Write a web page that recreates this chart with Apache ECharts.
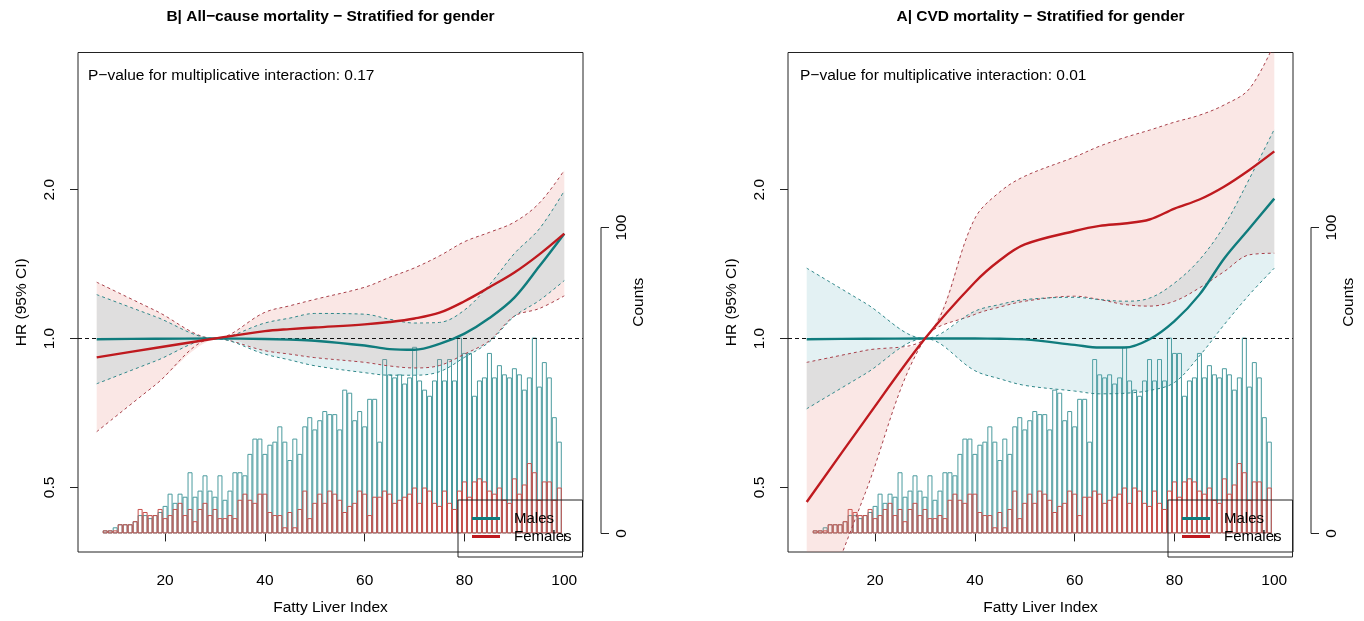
<!DOCTYPE html>
<html>
<head>
<meta charset="utf-8">
<script src="https://cdn.jsdelivr.net/npm/echarts@6/dist/echarts.min.js"></script>
<style>
  html, body { margin: 0; padding: 0; background: #fff; }
  #chart { width: 1364px; height: 621px; }
</style>
</head>
<body>
<div id="chart"></div>
<script>
const fli = [6.3, 18, 30, 40, 45, 50, 60, 65, 70, 75, 80, 85, 90, 95, 100];

// B| all-cause mortality
const allFemHR = [0.916, 0.957, 1.0, 1.035, 1.045, 1.053, 1.068, 1.08, 1.098, 1.128, 1.19, 1.27, 1.36, 1.48, 1.63];
const allFemLo = [0.648, 0.805, 1.0, 0.945, 0.93, 0.915, 0.895, 0.88, 0.872, 0.882, 0.93, 0.99, 1.11, 1.15, 1.22];
const allFemHi = [1.30, 1.14, 1.0, 1.13, 1.165, 1.2, 1.27, 1.33, 1.39, 1.47, 1.57, 1.64, 1.72, 1.88, 2.19];
const allMalHR = [0.997, 0.999, 1.0, 0.998, 0.995, 0.99, 0.968, 0.952, 0.949, 0.975, 1.023, 1.1, 1.21, 1.40, 1.63];
const allMalLo = [0.81, 0.9, 1.0, 0.93, 0.905, 0.881, 0.853, 0.843, 0.843, 0.857, 0.916, 0.985, 1.109, 1.194, 1.31];
const allMalHi = [1.227, 1.108, 1.0, 1.075, 1.10, 1.124, 1.12, 1.094, 1.075, 1.078, 1.142, 1.285, 1.486, 1.667, 1.99];

// A| CVD mortality
const cvdFemHR = [0.467, 0.684, 1.0, 1.30, 1.44, 1.55, 1.65, 1.69, 1.709, 1.741, 1.832, 1.911, 2.031, 2.193, 2.391];
const cvdFemLo = [0.239, 0.486, 1.0, 1.119, 1.158, 1.19, 1.218, 1.199, 1.172, 1.163, 1.19, 1.266, 1.367, 1.477, 1.488];
const cvdFemHi = [0.895, 0.946, 1.0, 1.75, 1.98, 2.13, 2.33, 2.45, 2.55, 2.64, 2.74, 2.83, 2.97, 3.2, 3.95];
const cvdMalHR = [0.997, 0.999, 1.0, 1.0, 0.999, 0.996, 0.971, 0.959, 0.959, 0.997, 1.085, 1.227, 1.454, 1.67, 1.919];
const cvdMalLo = [0.721, 0.848, 1.0, 0.861, 0.829, 0.804, 0.783, 0.773, 0.775, 0.785, 0.815, 0.922, 1.068, 1.227, 1.388];
const cvdMalHi = [1.388, 1.18, 1.0, 1.136, 1.172, 1.199, 1.212, 1.199, 1.19, 1.207, 1.295, 1.443, 1.693, 2.104, 2.651];

// histogram of FLI (one bin per unit), same in both panels
const histBins = [8, 9, 10, 11, 12, 13, 14, 15, 16, 17, 18, 19, 20, 21, 22, 23, 24, 25, 26, 27, 28, 29,
  30, 31, 32, 33, 34, 35, 36, 37, 38, 39, 40, 41, 42, 43, 44, 45, 46, 47, 48, 49, 50, 51, 52, 53, 54,
  55, 56, 57, 58, 59, 60, 61, 62, 63, 64, 65, 66, 67, 68, 69, 70, 71, 72, 73, 74, 75, 76, 77, 78, 79,
  80, 81, 82, 83, 84, 85, 86, 87, 88, 89, 90, 91, 92, 93, 94, 95, 96, 97, 98, 99];
const maleCounts = [1, 1, 2, 3, 3, 3, 4, 6, 6, 5, 6, 7,
  9, 13, 10, 13, 12, 20, 12, 14, 19, 14,
  12, 19, 11, 14, 20, 20, 19, 26, 31, 31,
  26, 29, 30, 35, 30, 24, 31, 26, 35, 38,
  34, 37, 40, 39, 39, 34, 47, 46, 37, 40,
  35, 44, 44, 30, 57, 52, 51, 52, 49, 51,
  61, 50, 47, 45, 50, 57, 50, 57, 50, 64,
  59, 59, 45, 50, 51, 59, 51, 55, 52, 51,
  54, 52, 47, 51, 64, 48, 56, 51, 38, 30];
const femaleCounts = [1, 1, 1, 3, 3, 3, 4, 8, 7, 6, 6, 8,
  5, 6, 8, 10, 6, 8, 4, 8, 10, 6,
  8, 5, 5, 6, 5, 11, 13, 11, 10, 13,
  13, 7, 6, 6, 2, 7, 2, 8, 14, 5,
  10, 13, 10, 14, 13, 11, 7, 9, 10, 14,
  13, 6, 12, 12, 14, 13, 10, 11, 12, 13,
  15, 10, 15, 14, 10, 9, 14, 10, 8, 14,
  17, 12, 17, 18, 17, 14, 13, 15, 11, 10,
  18, 13, 16, 23, 20, 11, 17, 17, 11, 15];

const xTicks = [20, 40, 60, 80, 100];
const hrTicks = [0.5, 1, 2];
const countTicks = [0, 100];

const RED = '#BF1A1F';
const TEAL = '#107C7D';
const RED_DASH = '#A8404A';
const TEAL_DASH = '#2F8789';
const SMOOTH = 0.35;
const FONT = '"Liberation Sans", Arial, sans-serif';

const chart = echarts.init(document.getElementById('chart'));

const pair = (ys) => fli.map((x, i) => [x, ys[i]]);

// same bezier construction echarts uses for smooth lines, so the fill follows the dashed CI lines
function smoothPath(pts, smooth, start) {
  let d = (start ? 'M' : 'L') + pts[0][0] + ',' + pts[0][1];
  let cp0 = pts[0];
  for (let i = 1; i < pts.length; i++) {
    const [x, y] = pts[i];
    const [px, py] = pts[i - 1];
    let vx = 0, vy = 0, ratio = 0.5, ncp = [x, y];
    if (i < pts.length - 1) {
      const [nx, ny] = pts[i + 1];
      vx = nx - px; vy = ny - py;
      const l0 = Math.hypot(x - px, y - py), l1 = Math.hypot(nx - x, ny - y);
      ratio = l1 / (l0 + l1);
      ncp = [x - vx * smooth * (1 - ratio), y - vy * smooth * (1 - ratio)];
    }
    d += 'C' + cp0[0] + ',' + cp0[1] + ',' + ncp[0] + ',' + ncp[1] + ',' + x + ',' + y;
    cp0 = [x + vx * smooth * ratio, y + vy * smooth * ratio];
  }
  return d;
}

function band(p, lo, hi, fill) {
  return {
    type: 'custom', xAxisIndex: p, yAxisIndex: 2 * p, data: [0], silent: true, clip: true, z: 2,
    renderItem: (params, api) => {
      const up = fli.map((x, i) => api.coord([x, hi[i]]));
      const dn = fli.map((x, i) => api.coord([x, lo[i]])).reverse();
      return {
        type: 'path',
        shape: { pathData: smoothPath(up, SMOOTH, true) + smoothPath(dn, SMOOTH, false) + 'Z' },
        style: { fill: fill, stroke: null }
      };
    }
  };
}

function dashed(p, ys, color) {
  return {
    type: 'line', xAxisIndex: p, yAxisIndex: 2 * p, smooth: SMOOTH, symbol: 'none', silent: true, z: 3,
    data: pair(ys), lineStyle: { color: color, width: 1, type: [3, 3] }
  };
}

function panel(p, femHR, femLo, femHi, malHR, malLo, malHi) {
  const bars = (counts, color) => ({
    type: 'bar', xAxisIndex: p, yAxisIndex: 2 * p + 1,
    data: histBins.map((x, i) => [x, counts[i]]),
    barWidth: '100%', barGap: '-100%', silent: true, z: 1,
    itemStyle: { color: 'rgba(0,0,0,0)', borderColor: color, borderWidth: 1 }
  });
  return [
    bars(maleCounts, '#4A9B9E'),
    bars(femaleCounts, '#C8504C'),
    band(p, femLo, femHi, 'rgba(230,120,110,0.18)'),
    band(p, malLo, malHi, 'rgba(100,180,190,0.18)'),
    dashed(p, femLo, RED_DASH), dashed(p, femHi, RED_DASH),
    dashed(p, malLo, TEAL_DASH), dashed(p, malHi, TEAL_DASH),
    {
      name: 'Males', type: 'line', xAxisIndex: p, yAxisIndex: 2 * p, smooth: SMOOTH, symbol: 'none',
      data: pair(malHR), z: 5, color: TEAL, lineStyle: { color: TEAL, width: 2.4 },
      markLine: {
        silent: true, symbol: 'none', label: { show: false },
        lineStyle: { color: '#111', type: [4, 3], width: 1.2 },
        data: [{ yAxis: 1 }]
      }
    },
    {
      name: 'Females', type: 'line', xAxisIndex: p, yAxisIndex: 2 * p, smooth: SMOOTH, symbol: 'none',
      data: pair(femHR), z: 5, color: RED, lineStyle: { color: RED, width: 2.4 }
    }
  ];
}

const gridLefts = [78, 788];
const txt = { color: '#000', fontSize: 15.5, fontFamily: FONT };

const xAxes = [0, 1].map(p => ({
  gridIndex: p, type: 'value', min: 2.55, max: 103.75,
  axisLine: { show: false }, splitLine: { show: false },
  axisTick: { show: true, length: 8, customValues: xTicks, lineStyle: { color: '#222' } },
  axisLabel: Object.assign({ customValues: xTicks, margin: 21 }, txt),
  name: 'Fatty Liver Index', nameLocation: 'middle', nameGap: 48, nameTextStyle: txt
}));

const yAxes = [];
[0, 1].forEach(p => {
  yAxes.push({
    gridIndex: p, type: 'log', logBase: 2, min: 0.37, max: 3.79, position: 'left',
    axisLine: { show: false }, splitLine: { show: false },
    axisTick: { show: true, length: 8, customValues: hrTicks, lineStyle: { color: '#222' } },
    axisLabel: Object.assign({ customValues: hrTicks, rotate: 90, margin: 20,
      formatter: v => Number(v).toFixed(1) }, txt),
    name: 'HR (95% CI)', nameLocation: 'middle', nameGap: 48, nameTextStyle: txt
  });
  yAxes.push({
    gridIndex: p, type: 'value', min: -6.07, max: 157.2, position: 'right', offset: 18,
    axisLine: { show: false }, splitLine: { show: false },
    axisTick: { show: true, length: 8, customValues: countTicks, lineStyle: { color: '#222' } },
    axisLabel: Object.assign({ customValues: countTicks, rotate: 90, margin: 13 }, txt),
    name: 'Counts', nameLocation: 'middle', nameGap: 28, nameTextStyle: txt
  });
});

const legends = [0, 1].map(p => ({
  data: ['Males', 'Females'], orient: 'vertical',
  left: gridLefts[p] + 380, top: 500,
  icon: 'rect', itemWidth: 28, itemHeight: 3, itemGap: 3,
  padding: [11, 11, 13, 14],
  borderColor: '#222', borderWidth: 1, borderRadius: 0,
  textStyle: { color: '#000', fontSize: 15, fontFamily: FONT, padding: [0, 0, 0, 9] },
  selectedMode: false
}));

const titleStyle = { fontSize: 15.5, fontWeight: 'bold', color: '#000', fontFamily: FONT };
const noteStyle = { fontSize: 15.5, fontWeight: 'normal', color: '#000', fontFamily: FONT };

chart.setOption({
  animation: false,
  textStyle: { fontFamily: FONT },
  title: [
    { text: 'B| All−cause mortality − Stratified for gender', left: 330.5, top: 9, textAlign: 'center', padding: 0, textStyle: titleStyle },
    { text: 'A| CVD mortality − Stratified for gender', left: 1040.5, top: 9, textAlign: 'center', padding: 0, textStyle: titleStyle },
    { text: 'P−value for multiplicative interaction: 0.17', left: 88, top: 68, padding: 0, textStyle: noteStyle },
    { text: 'P−value for multiplicative interaction: 0.01', left: 800, top: 68, padding: 0, textStyle: noteStyle }
  ],
  legend: legends,
  grid: gridLefts.map(l => ({
    left: l, top: 52.5, width: 505, height: 503.5, show: true,
    borderColor: '#222', borderWidth: 1, backgroundColor: 'transparent'
  })),
  xAxis: xAxes,
  yAxis: yAxes,
  series: [
    ...panel(0, allFemHR, allFemLo, allFemHi, allMalHR, allMalLo, allMalHi),
    ...panel(1, cvdFemHR, cvdFemLo, cvdFemHi, cvdMalHR, cvdMalLo, cvdMalHi)
  ]
});

// R draws the counts axis line only between its first and last tick
const axisLines = [0, 1].map(p => {
  const x = chart.convertToPixel({ xAxisIndex: p }, 103.75) + 18;
  const y0 = chart.convertToPixel({ yAxisIndex: 2 * p + 1 }, countTicks[0]);
  const y1 = chart.convertToPixel({ yAxisIndex: 2 * p + 1 }, countTicks[countTicks.length - 1]);
  return { type: 'line', silent: true, shape: { x1: x, y1: y0, x2: x, y2: y1 },
    style: { stroke: '#222', lineWidth: 1 } };
});
chart.setOption({ graphic: axisLines });
</script>
</body>
</html>
